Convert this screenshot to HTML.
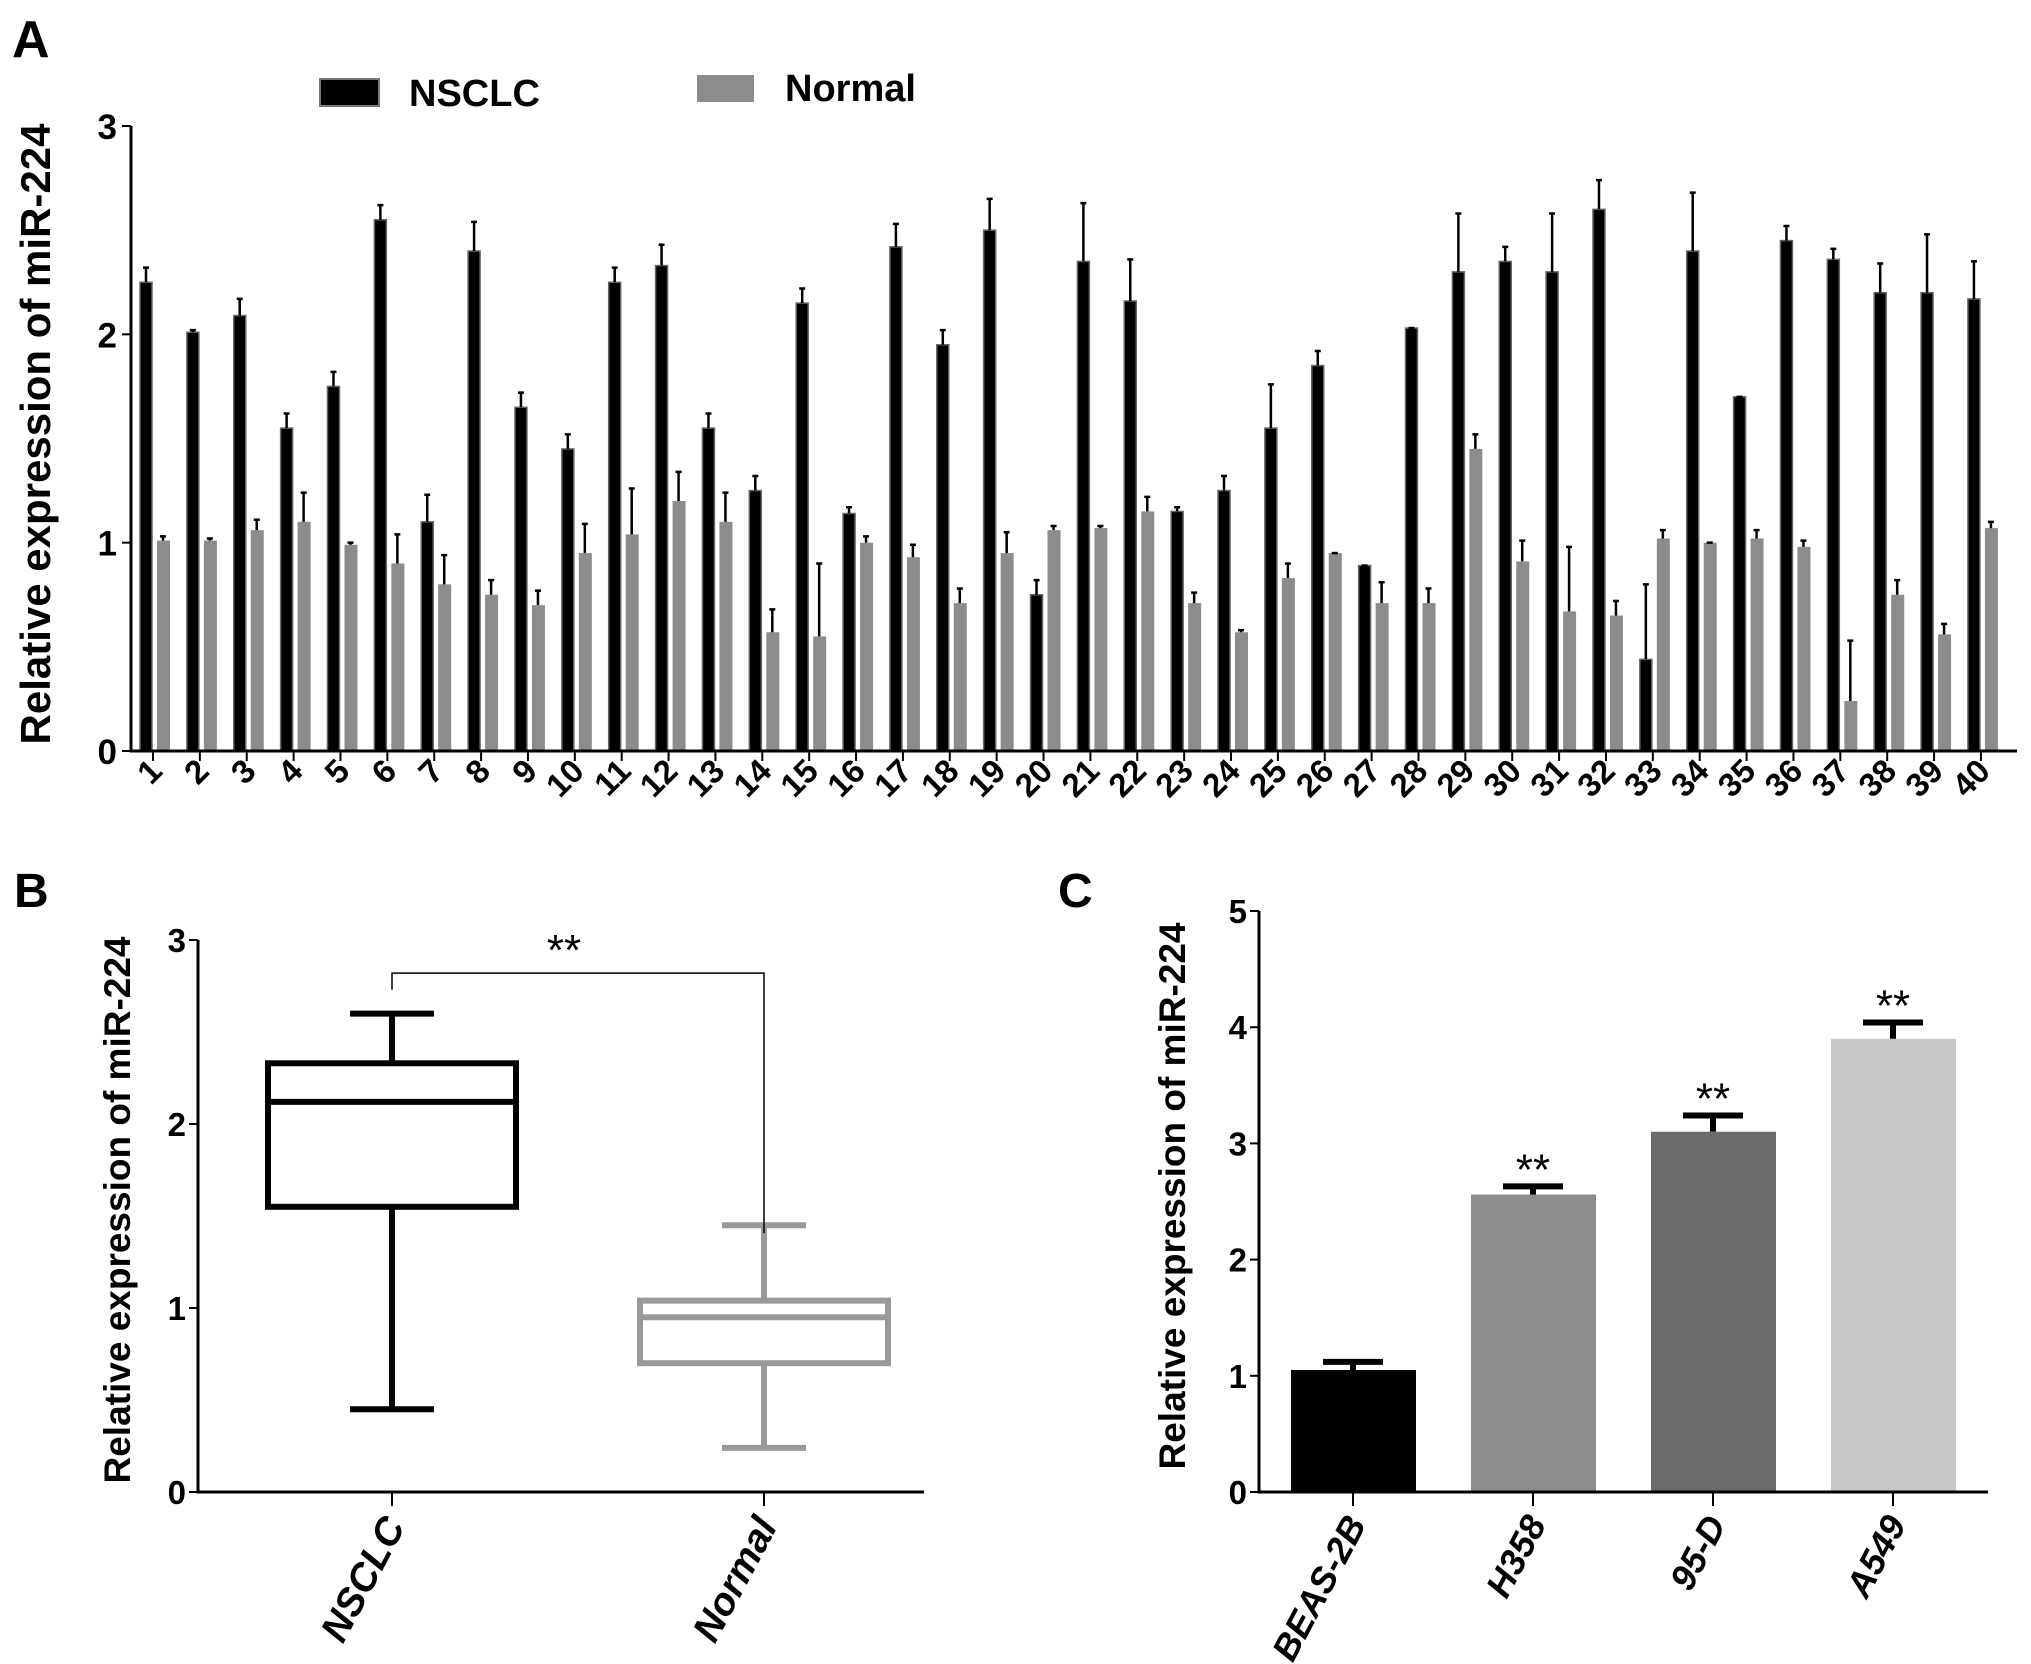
<!DOCTYPE html>
<html><head><meta charset="utf-8"><style>
html,body{margin:0;padding:0;background:#fff;}
svg{display:block;font-family:"Liberation Sans",Arial,sans-serif;font-weight:bold;}
</style></head><body>
<svg id="fig" width="2031" height="1664" viewBox="0 0 2031 1664" xmlns="http://www.w3.org/2000/svg">
<rect width="2031" height="1664" fill="#fff"/>
<g id="pa"></g>
<g id="pb"></g>
<g id="pc"></g>
</svg>
<script>
// Panel A data
const samples = Array.from({length:40},(_,i)=>String(i+1));
const nsclcVals = [2.25,2.01,2.09,1.55,1.75,2.55,1.10,2.40,1.65,1.45,2.25,2.33,1.55,1.25,2.15,1.14,2.42,1.95,2.50,0.75,2.35,2.16,1.15,1.25,1.55,1.85,0.89,2.03,2.30,2.35,2.30,2.60,0.44,2.40,1.70,2.45,2.36,2.20,2.20,2.17];
const nsclcErr  = [2.32,2.02,2.17,1.62,1.82,2.62,1.23,2.54,1.72,1.52,2.32,2.43,1.62,1.32,2.22,1.17,2.53,2.02,2.65,0.82,2.63,2.36,1.17,1.32,1.76,1.92,0.89,2.03,2.58,2.42,2.58,2.74,0.80,2.68,1.70,2.52,2.41,2.34,2.48,2.35];
const normalVals = [1.01,1.01,1.06,1.10,0.99,0.90,0.80,0.75,0.70,0.95,1.04,1.20,1.10,0.57,0.55,1.00,0.93,0.71,0.95,1.06,1.07,1.15,0.71,0.57,0.83,0.95,0.71,0.71,1.45,0.91,0.67,0.65,1.02,1.00,1.02,0.98,0.24,0.75,0.56,1.07];
const normalErr  = [1.03,1.02,1.11,1.24,1.00,1.04,0.94,0.82,0.77,1.09,1.26,1.34,1.24,0.68,0.90,1.03,0.99,0.78,1.05,1.08,1.08,1.22,0.76,0.58,0.90,0.95,0.81,0.78,1.52,1.01,0.98,0.72,1.06,1.00,1.06,1.01,0.53,0.82,0.61,1.10];
const aTicks = [0,1,2,3];
// Panel B data
const boxGroups = ["NSCLC","Normal"];
const boxMin = [0.45,0.24];
const boxQ1 = [1.55,0.70];
const boxMed = [2.12,0.95];
const boxQ3 = [2.33,1.04];
const boxMax = [2.60,1.45];
const bTicks = [0,1,2,3];
// Panel C data
const cellLines = ["BEAS-2B","H358","95-D","A549"];
const cellVals = [1.05,2.56,3.10,3.90];
const cellErr = [1.12,2.63,3.24,4.04];
const cellSig = ["","**","**","**"];
const cTicks = [0,1,2,3,4,5];

const NS="http://www.w3.org/2000/svg";
function mk(parent,tag,attrs,text){const e=document.createElementNS(NS,tag);for(const k in attrs)e.setAttribute(k,attrs[k]);if(text!==undefined)e.textContent=text;parent.appendChild(e);return e;}

// ---------- Panel A ----------
const pa=document.getElementById('pa');
const aX0=131, aY0=751, aUnit=(751-126)/3;
const ay=v=>aY0-v*aUnit;
const ax=i=>153+i*46.87;
let t;
t=mk(pa,'text',{x:12,y:57,'font-size':52});
t.textContent='A';
let r=mk(pa,'rect',{x:320,y:79,width:59,height:27,fill:'#000',stroke:'#777','stroke-width':2});

t=mk(pa,'text',{x:409,y:106,'font-size':38},'NSCLC');

r=mk(pa,'rect',{x:697,y:75,width:57,height:27,fill:'#8c8c8c'});

t=mk(pa,'text',{x:785,y:101,'font-size':38},'Normal');

t=mk(pa,'text',{x:0,y:0,'font-size':42,'text-anchor':'middle',transform:'translate(50,434) rotate(-90)'},'Relative expression of miR-224');

aTicks.forEach(v=>{
  const l=mk(pa,'line',{x1:aX0-9,x2:aX0,y1:ay(v),y2:ay(v),stroke:'#000','stroke-width':2});
  
  const tt=mk(pa,'text',{x:aX0-14,y:ay(v)+13,'font-size':35,'text-anchor':'end'},String(v));
  
});
samples.forEach((s,i)=>{
  const c=ax(i);
  const b=mk(pa,'rect',{x:c-13,y:ay(nsclcVals[i]),width:12,height:nsclcVals[i]*aUnit,fill:'#000',stroke:'#666','stroke-width':1.5});
  
  const e1=mk(pa,'path',{d:`M${c-7},${ay(nsclcVals[i])}V${ay(nsclcErr[i])}M${c-10},${ay(nsclcErr[i])}H${c-4}`,stroke:'#000','stroke-width':2.5,fill:'none'});
  
  const g=mk(pa,'rect',{x:c+4,y:ay(normalVals[i]),width:13,height:normalVals[i]*aUnit,fill:'#8c8c8c'});
  
  const e2=mk(pa,'path',{d:`M${c+10},${ay(normalVals[i])}V${ay(normalErr[i])}M${c+7},${ay(normalErr[i])}H${c+13}`,stroke:'#000','stroke-width':2.5,fill:'none'});
  
  const tk=mk(pa,'line',{x1:c,x2:c,y1:aY0,y2:aY0+10,stroke:'#000','stroke-width':2});
  
  const lb=mk(pa,'text',{x:0,y:0,'font-size':33,'text-anchor':'end',transform:`translate(${c+11},${aY0+22}) rotate(-45)`},s);
  
});
let ln=mk(pa,'path',{d:`M${aX0},${ay(3)}V${aY0}H2017`,stroke:'#000','stroke-width':3,fill:'none'});


// ---------- Panel B ----------
const pb=document.getElementById('pb');
const bX0=198,bY0=1492,bUnit=(1492-940)/3;
const by=v=>bY0-v*bUnit;
const bxs=[392,764];
t=mk(pb,'text',{x:14,y:907,'font-size':48},'B');

t=mk(pb,'text',{x:0,y:0,'font-size':37,'text-anchor':'middle',transform:'translate(130,1210) rotate(-90)'},'Relative expression of miR-224');

bTicks.forEach(v=>{
  const l=mk(pb,'line',{x1:bX0-9,x2:bX0,y1:by(v),y2:by(v),stroke:'#000','stroke-width':2});
  
  const tt=mk(pb,'text',{x:bX0-12,y:by(v)+12,'font-size':33,'text-anchor':'end'},String(v));
  
});
const boxCol=['#000','#999'];
boxGroups.forEach((g,i)=>{
  const c=bxs[i],col=boxCol[i],hw=124;
  const wh=mk(pb,'path',{d:`M${c},${by(boxMax[i])}V${by(boxQ3[i])}M${c},${by(boxQ1[i])}V${by(boxMin[i])}M${c-42},${by(boxMax[i])}H${c+42}M${c-42},${by(boxMin[i])}H${c+42}`,stroke:col,'stroke-width':6,fill:'none'});
  
  const bx=mk(pb,'rect',{x:c-hw,y:by(boxQ3[i]),width:hw*2,height:(boxQ3[i]-boxQ1[i])*bUnit,fill:'#fff',stroke:col,'stroke-width':6});
  
  const md=mk(pb,'line',{x1:c-hw,x2:c+hw,y1:by(boxMed[i]),y2:by(boxMed[i]),stroke:col,'stroke-width':6});
  
  const tk=mk(pb,'line',{x1:c,x2:c,y1:bY0,y2:bY0+14,stroke:'#000','stroke-width':2});
  
  const lb=mk(pb,'text',{x:0,y:0,'font-size':39,'font-style':'italic','text-anchor':'end',transform:`translate(${c+14},${bY0+34}) rotate(-62)`},g);
  
});
ln=mk(pb,'path',{d:`M${bxs[0]},${by(boxMax[0])-24}V${by(2.82)}H${bxs[1]}V${by(boxMax[1])+8}`,stroke:'#000','stroke-width':1.5,fill:'none'});

t=mk(pb,'text',{x:(bxs[0]+bxs[1])/2-14,y:by(2.82)-8,'font-size':44,'font-weight':'normal','text-anchor':'middle'},'**');

ln=mk(pb,'path',{d:`M${bX0},${by(3)}V${bY0}H924`,stroke:'#000','stroke-width':3,fill:'none'});


// ---------- Panel C ----------
const pc=document.getElementById('pc');
const cX0=1259,cY0=1492,cUnit=(1492-911)/5;
const cy=v=>cY0-v*cUnit;
const cx=i=>1353+i*180;
const cCol=['#000','#8c8c8c','#6b6b6b','#c8c8c8'];
t=mk(pc,'text',{x:1058,y:907,'font-size':48},'C');

t=mk(pc,'text',{x:0,y:0,'font-size':37,'text-anchor':'middle',transform:'translate(1185,1196) rotate(-90)'},'Relative expression of miR-224');

cTicks.forEach(v=>{
  const l=mk(pc,'line',{x1:cX0-9,x2:cX0,y1:cy(v),y2:cy(v),stroke:'#000','stroke-width':2});
  
  const tt=mk(pc,'text',{x:cX0-12,y:cy(v)+12,'font-size':33,'text-anchor':'end'},String(v));
  
});
cellLines.forEach((g,i)=>{
  const c=cx(i);
  const e=mk(pc,'path',{d:`M${c},${cy(cellVals[i])}V${cy(cellErr[i])}M${c-30},${cy(cellErr[i])}H${c+30}`,stroke:'#000','stroke-width':6,fill:'none'});
  
  const b=mk(pc,'rect',{x:c-62,y:cy(cellVals[i]),width:125,height:cellVals[i]*cUnit,fill:cCol[i]});
  
  if(cellSig[i]){
    const s=mk(pc,'text',{x:c,y:cy(cellErr[i])-2,'font-size':44,'font-weight':'normal','text-anchor':'middle'},cellSig[i]);
    
  }
  const tk=mk(pc,'line',{x1:c,x2:c,y1:cY0,y2:cY0+14,stroke:'#000','stroke-width':2});
  
  const lb=mk(pc,'text',{x:0,y:0,'font-size':36,'font-style':'italic','text-anchor':'end',transform:`translate(${c+14},${cY0+32}) rotate(-62)`},g);
  
});
ln=mk(pc,'path',{d:`M${cX0},${cy(5)}V${cY0}H1988`,stroke:'#000','stroke-width':3,fill:'none'});

</script>
</body></html>
